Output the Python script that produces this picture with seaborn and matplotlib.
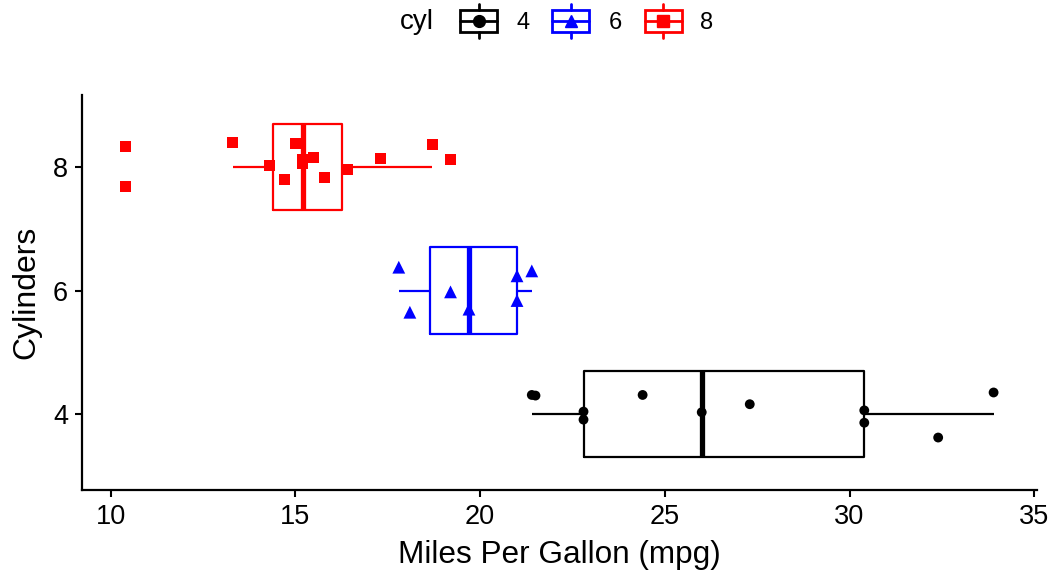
import numpy as np
import pandas as pd
import matplotlib
matplotlib.use("Agg")
import matplotlib.pyplot as plt
import seaborn as sns
from matplotlib.legend_handler import HandlerBase
from matplotlib.patches import Rectangle
from matplotlib.lines import Line2D

# ---- data (mtcars mpg by cylinders, jittered y positions) ----
mpg_4 = [21.4, 21.5, 22.8, 22.8, 24.4, 26.0, 27.3, 30.4, 30.4, 32.4, 33.9]
jit_4 = [4.31, 4.30, 4.04, 3.91, 4.31, 4.03, 4.16, 4.06, 3.86, 3.62, 4.35]
mpg_6 = [17.8, 18.1, 19.2, 19.7, 21.0, 21.0, 21.4]
jit_6 = [6.38, 5.65, 5.98, 5.70, 6.24, 5.84, 6.32]
mpg_8 = [10.4, 10.4, 13.3, 14.3, 14.7, 15.0, 15.2, 15.2, 15.5, 15.8, 16.4, 17.3, 18.7, 19.2]
jit_8 = [8.34, 7.69, 8.40, 8.03, 7.80, 8.38, 8.06, 8.12, 8.16, 7.83, 7.96, 8.14, 8.37, 8.12]
cyl_levels = [4, 6, 8]
x_ticks = [10, 15, 20, 25, 30, 35]
y_ticks = [4, 6, 8]

colors = {4: "black", 6: "blue", 8: "red"}
markers = {4: "o", 6: "^", 8: "s"}
msizes = {4: 50, 6: 85, 8: 63}

df = pd.DataFrame({
    "mpg": mpg_4 + mpg_6 + mpg_8,
    "cyl": [4] * len(mpg_4) + [6] * len(mpg_6) + [8] * len(mpg_8),
    "jit": jit_4 + jit_6 + jit_8,
})

sns.set_style("ticks")
plt.rcParams["font.family"] = ["Liberation Sans", "DejaVu Sans"]
plt.rcParams["text.color"] = "black"
plt.rcParams["axes.labelcolor"] = "black"

fig = plt.figure(figsize=(10.55, 5.73), dpi=100)
ax = fig.add_axes([82 / 1055, 1 - 490 / 573, (1037 - 82) / 1055, (490 - 95) / 573])

sns.boxplot(data=df, x="mpg", y="cyl", hue="cyl", orient="h", native_scale=True,
            palette=colors, fill=False, dodge=False, width=0.7, showfliers=False,
            showcaps=False, linewidth=1.6, medianprops=dict(linewidth=3.8),
            legend=False, ax=ax)

sns.scatterplot(data=df, x="mpg", y="jit", hue="cyl", style="cyl", size="cyl",
                palette=colors, markers=markers, sizes=msizes, edgecolor="none",
                legend=False, ax=ax, zorder=5)

ax.set_xlim(9.225, 35.075)
ax.set_ylim(2.77, 9.17)
ax.set_xticks(x_ticks)
ax.set_yticks(y_ticks)
ax.set_xlabel("Miles Per Gallon (mpg)", fontsize=22.7, labelpad=7)
ax.set_ylabel("Cylinders", fontsize=23, labelpad=8.5)
ax.tick_params(axis="both", labelsize=19.5, length=5, width=1.5, color="black",
               labelcolor="black", pad=5)
for s in ["top", "right"]:
    ax.spines[s].set_visible(False)
for s in ["left", "bottom"]:
    ax.spines[s].set_linewidth(1.6)
    ax.spines[s].set_color("black")


class BoxKey(HandlerBase):
    def __init__(self, color, marker):
        super().__init__()
        self.color = color
        self.marker = marker

    def create_artists(self, legend, orig_handle, xdescent, ydescent, width, height,
                       fontsize, trans):
        x0, y0 = -xdescent, -ydescent
        c = self.color
        rect = Rectangle((x0, y0), width, height, fill=False, ec=c, lw=2.0, transform=trans)
        mid = Line2D([x0, x0 + width], [y0 + height / 2] * 2, color=c, lw=2.0, transform=trans)
        top = Line2D([x0 + width / 2] * 2, [y0 + height, y0 + height * 1.28],
                     color=c, lw=2.0, transform=trans)
        bot = Line2D([x0 + width / 2] * 2, [y0 - height * 0.28, y0],
                     color=c, lw=2.0, transform=trans)
        mk = Line2D([x0 + width / 2], [y0 + height / 2], marker=self.marker, ms=8.5,
                    color=c, ls="", transform=trans)
        return [rect, mid, top, bot, mk]


handles = [Line2D([], []) for _ in cyl_levels]
hmap = {h: BoxKey(colors[c], markers[c]) for h, c in zip(handles, cyl_levels)}
leg = fig.legend(handles, [str(c) for c in cyl_levels], handler_map=hmap, ncol=3,
                 loc="center", bbox_to_anchor=(587 / 1055, 1 - 22 / 573), frameon=False,
                 fontsize=17, handlelength=1.57, handleheight=1.05, columnspacing=0.97,
                 handletextpad=0.8, borderaxespad=0, borderpad=0)
fig.text(400 / 1055, 1 - 22 / 573, "cyl", fontsize=20, va="center", ha="left")

fig.savefig("out.png", dpi=100)
